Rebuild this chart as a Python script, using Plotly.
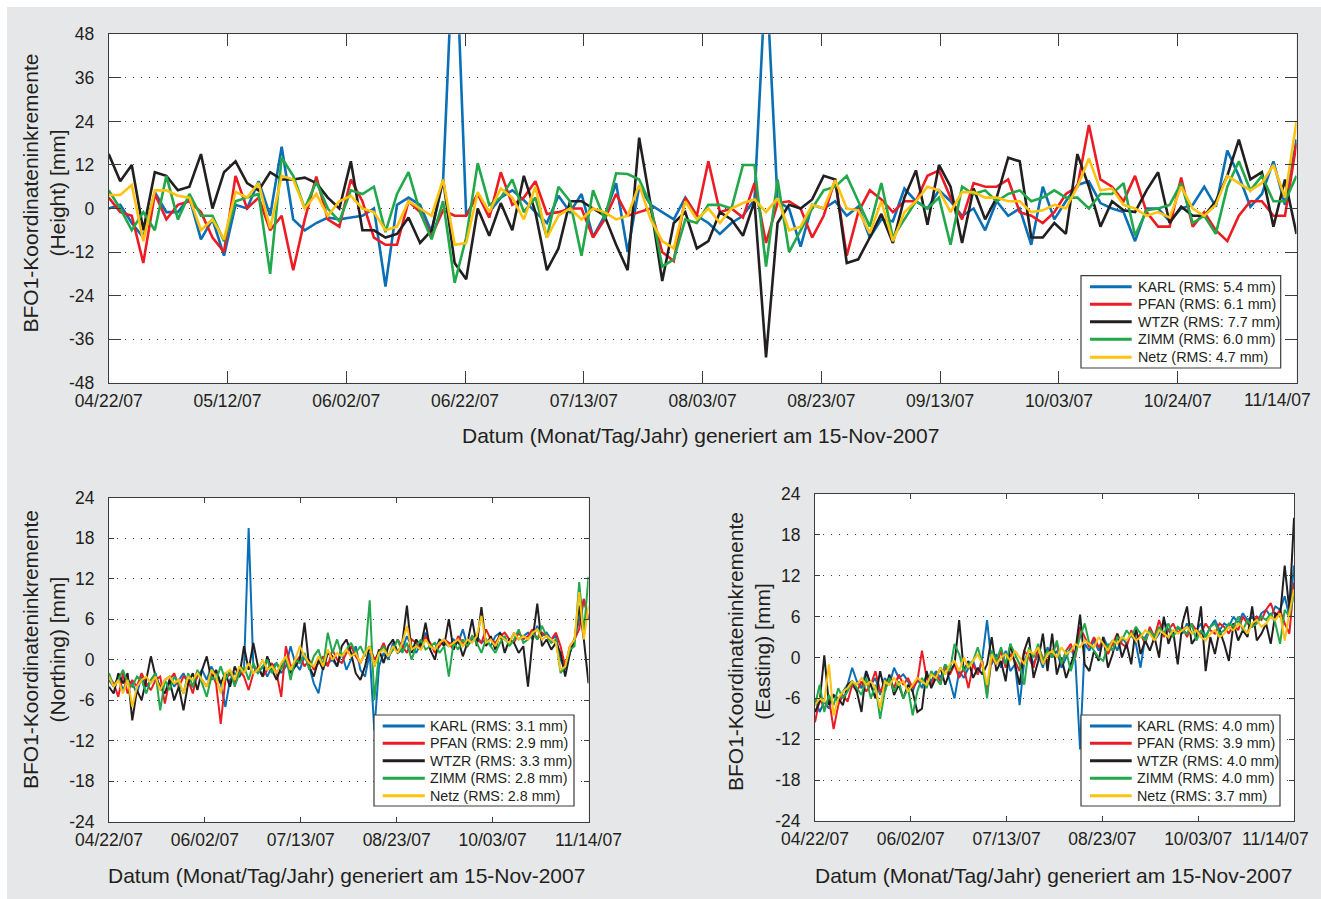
import pandas as pd
import plotly.graph_objects as go

# ---------------------------------------------------------------------------
# Daily coordinate increments of BFO1 (sampled every second day) in mm
# ---------------------------------------------------------------------------
DATES = pd.date_range("2007-04-22", "2007-11-14", freq="2D")

STATIONS = ["KARL", "PFAN", "WTZR", "ZIMM", "Netz"]

# Height component (two KARL outliers run beyond the +48 mm limit)
KARL_H = [0, 1, -4, -8, 4.5, -1, -1, 3, -8.5, -3,
          -13, 1, 0, 7.5, -2, 17, -3, -6, -4, -2.5,
          -3, -2.5, -2, 0, -21.5, 1, 3, 1, -6.5, 8,
          82, -2, 4, -1, 3, 5, 2.3, -1, -4, 3.5,
          -1, 4, -7.8, -2, 7, -12, 6, 1, -1, -3,
          3, -2, -4, -7, -4, -2, 2.5, 66, 2, 0,
          -10.5, 1, 0, 2, -2, 0.5, -8, -3, -3.5, 5.5,
          2, 0, 5, 2, -2, 0, -6, 2, -2, 0,
          -10, 6, -3, 2, 6.5, 7.5, 1.5, 0, -1, -9,
          0, 0, -3.5, 0, 1, 6, 0.5, 16, 9, 0.5,
          4, 13, 1, 19]
PFAN_H = [3, -1, -2, -15, 4, -3, 1, 2, -1, -8,
          -12, 9, 0, 3, -6, -2, -17, -3, 8.8, -3,
          -5, 8, 2, -8, -10, -10, 2, -1, -7.5, -0.5,
          -2, -2, 4, -2.5, 10, 1, 3, 7.5, -1.5, -1,
          0, 0, -8, -3, 4, -2, -1, 0, -12, -14.5,
          3, -2, 13, -1, 0, -2.5, 7, -9.5, 1.5, 2,
          0, -8, -2, 8, -13, -1, 5, 2.5, -1, 2,
          2, 9, 10.5, 3, -3, 7, 6, 6, 8, -1,
          -2, -4, -1, 4, 6, 23, 8, 6, 2, 9,
          -1, -5, -5, 8.5, -5, -1, -6, -9, -2, 2,
          2, -2, -2, 18]
WTZR_H = [15, 7.5, 12, -6, 10, 9, 5, 6, 15, 0,
          10, 13, 7, 5, 10, 8, 8, 8.5, 7, 3,
          0, 13, -6, -6, -8, -7, -2.5, -9.5, -6, 8,
          -15, -19.5, 0, -7.5, 1.5, -6, 9, -1, -17, -11,
          2, 2, 0, -2, -10, -17, 19.5, 1, -20, -4,
          -1, -11, -9, -1, -3, -7.5, 2, -41, -4, 1,
          0, 2.5, 9, 8, -15, -14, -8, -1.5, -9.5, 3,
          10.5, -4.5, 12, 6, -9.5, 5.5, -3, 3, 14, 13,
          -8, -8, -4, -7, 15, 6, -5, 2, -0.5, -1,
          5, 10, -4, 0.5, -2, -2, 2, 9, 19, 8,
          10, -5, 8, -7]
ZIMM_H = [5, 0, -6, -1, -6, 9, -3, 4, -2, -2,
          -9, 2, 3, 4, -18, 14, 9, 0, 7.4, 0,
          -3.5, 5, 4, 6, -6.5, 4, 10, -1, -8.5, 2,
          -20.5, -8, 12.5, 1, 3, 8, -1, 3, -8, 6,
          2, -13, 5, -3, 9.7, 9.5, 8, 1, -16, -14,
          -3, -4, 1, 1, 0, 12, 12, -16, 8, -12,
          -6, 0, 5, 6, 9, 2, -5, 7, -8, -3,
          2, 0, 3, -10, 6, 4, 5, 2, 4, 5,
          2, 3, 5, 3, 3, 0, 4, 4, 7, -7.5,
          -0.5, 0, 1, 7, -4, -2, -7, 6, 13, 5,
          9, 2, 2, 9]
NETZ_H = [3.7, 3.7, 6.5, -9, 5, 5, 3.5, 3, -6, -3,
          -8.5, 4.6, 3, 7, -5.5, 9, 8, 0, 4, -2,
          2, 3.5, 0, -1, -6, -5, 2, 0, -2, 8,
          -10, -9.5, 4.5, -1, 5.5, 3, -3, 6, -8, -2,
          0, -3, 0, -1, -3, -2, 6.5, -3, -9, -11,
          2, -3, 0, -4, 0, 1.5, 2.5, -1, 2.8, -6,
          -5, 1, 0, 7.8, 0, -0.5, -6.8, 2, -9, -1,
          2, 6, 5, -1, 4.5, 4.5, 3, 3, 2, 2,
          -1, -0.5, 1, 0, 6, 13.8, 5, 5.5, 1, 0,
          -2, -1, -2.5, 6, 0, -2, 1, 9, 7, 5,
          7, 12, 3, 24]

# Northing component
KARL_N = [-3, -4, -2.5, -4.5, -3, -3.5, -5, -2.5, -4, -3,
          -2, -4.5, -3, -2.5, -4, -3, -2, -3.5, -4, -2.5,
          -1.5, -3, -1, -2.5, -3.5, -7, -3, -2, -2.5, -1.5,
          19.5, -1, -2, -1, -2.5, -1, -0.5, -2, -1, 2,
          -0.5, -1.5, 0.5, -1, -3.5, -5, -1, -0.5, 0, -1,
          1, -1.5, 0, 2, -1.5, -2.5, 1, -10.5, -1, 1,
          0, 2.5, 1, 1.5, 3.5, 2, 1, 2.5, 4, 2,
          1.5, 3, 2.5, 2, 3, 2.5, 4.5, 2, 3, 3.5,
          2.5, 3, 2, 3.5, 4, 3, 2.5, 4, 3, 3.5,
          4, 3, 5, 3.5, 4, 3, 3.5, 0, -1.5, 1,
          3, 6, 9, 6]
PFAN_N = [-2.5, -3.5, -5.5, -2, -5, -3, -4, -2, -3.5, -4.5,
          -3, -2.5, -6.5, -3, -2, -4, -2.5, -3, -5, -2,
          -3, -4, -2, -3.5, -9.5, -3, -2, -3.5, -1.5, -2.5,
          -4.5, -2, -1, -2.5, -1.5, -0.5, -2, -5.5, 2, -1,
          -0.5, 0.5, -1, 0, -1.5, -0.5, 0.5, -1, 1.5, 0,
          -0.5, 1, 2, 0.5, -0.5, 1, 2, 0, 1, 2.5,
          0.5, 1.5, 3, 2, 1, 3, 2.5, 1.5, 3.5, 2.5,
          1, 2, 3, 2.5, 1.5, 3.5, 2.5, 2, 3.5, 3,
          2.5, 4.5, 3, 2.5, 3.5, 4, 3, 2.5, 4, 3,
          3.5, 4.5, 3, 4, 3.5, 3, 4, 2, -1, 2,
          3, 4.5, 9, 6]
WTZR_N = [-4, -5, -2, -3.5, -2, -9, -4.5, -6, -3, 0.5,
          -2.5, -4, -5, -3, -6, -4, -7.5, -3.5, -2, -4.5,
          -1.5, 0.5, -3, -1.5, -3.5, -2, -4, -1, -2.5, 2,
          -1.5, 2.5, -1, -2.5, 0.5, -1.5, -3, -1, 0, -2,
          -1, 0, 5.5, -1, -2.5, 0, -1.5, 1, 0.5, -1,
          2, 3, 1, -2, -3, -1, 2, -1, 1.5, -0.5,
          2, 3, 1, 2.5, 8, 1, 3, 2, 5.5, 1.5,
          0, 3, 2, 6, 1.5, 3, 0.5, 2.5, 6, 2,
          7.8, 2, 3.5, 1.5, 4, 1, 3, 2.5, 1, 2,
          -4, 3, 8.3, 2, 3, 1.5, 2.5, 1, -2.5, 1,
          3, 8, 3, -3.5]
ZIMM_N = [-2, -4, -3, -1.5, -3.5, -4, -2.5, -3, -5, -3,
          -2, -7.5, -3, -4.5, -2.5, -3.5, -5, -2, -4, -1.5,
          -3.5, -5.5, -2.5, -3, -1, -3, -1.5, -4, -2, -1,
          -3, -0.5, -2, -1, 0, -2, -0.5, -1.5, 0.5, -3,
          0, -0.5, 1, -1.5, 0.5, 1.5, -1, 4, 1, 3,
          0.5, 1.5, 2.5, 1, 2, 0.5, 8.8, -6, 1, 2,
          0.5, 1.5, 3, 1, 2.5, 0, 2, 3, 1.5, 2,
          2.5, 1, 2, -2.5, 2.5, 1.5, 3, 2, 3.5, 2.5,
          1, 3, 2, 1, 2.5, 3.5, 2, 3, 4.5, 2.5,
          3, 4, 3, 5, 3.5, 2.5, 3, -2, -1, 1.5,
          2, 11.5, 4, 12.3]
NETZ_N = [-2.5, -4, -3, -5, -3, -7, -4, -3, -2.5, -3.5,
          -2.5, -4.5, -3, -2.5, -3.5, -3, -5, -2.5, -3, -2,
          -3, -4, -1.5, -2.5, -5, -2, -1.5, -3, -1, -2,
          -0.5, -2, -1.5, 0, -1.5, -1, -2, -0.5, 0.5, -1.5,
          0, 2, 0.5, -0.5, -1, 0.5, -1, 1.5, 0, 1,
          0.5, 1.5, 0.5, 1, -0.5, 1, 2, -1, 1, 1.5,
          0.5, 2, 1, 2.5, 5, 1.5, 2, 1.5, 3, 2,
          1.5, 2.5, 3, 2, 2.5, 3, 2, 3, 2.5, 3.5,
          6.5, 2.5, 3, 2, 3.5, 3, 2.5, 4, 3, 3.5,
          3, 4, 4.5, 3, 3.5, 3, 2.5, -1.5, -1, 2,
          3, 10, 3, 8]

# Easting component
KARL_E = [-6, -8, -6.5, -7.5, -5.5, -6.5, -5, -4, -1.5, -3.5,
          -4.5, -2, -4, -3, -5.5, -3, -4, -1.5, -3, -2.5,
          -3.5, -5, -3, -4.5, -2.5, -3.5, -2, -3, -1, -3.5,
          -6, -2, -3, -1.5, -0.5, -2.5, 0, 5.5, -1, 0.5,
          -1.5, 1, -2, -1, -7, -0.5, 1, -1, 0.5, -1.5,
          1.5, 0, 1, -1.5, 0, 1.5, -0.5, -13.5, 2, 1,
          2.5, 1, 3, 1.5, 2.5, 1, 3, 2, 3.5, 2,
          -1.5, 3, 4, 2.5, 3.5, 5.5, 4, 3, 4.5, 3.5,
          5, 3.5, 4, 5, 3, 4.5, 5.5, 4, 5, 4.5,
          6, 5, 6.5, 5.5, 6, 5, 6.5, 7, 6, 7.5,
          7, 9, 6, 13.5]
PFAN_E = [-9.5, -6, -7.5, -6, -10.5, -7, -5.5, -6.5, -4, -5,
          -3.5, -5, -4, -2, -5, -4, -3, -4.5, -2.5, -4,
          -3, -4.5, -3.5, 1, -3, -4, -2.5, -3.5, -1.5, -2.5,
          -1, -3, -1.5, -4.5, -1, -2.5, -0.5, -5.5, 0, -1,
          1, -1.5, 0.5, -0.5, -2, 1, 0, -1.5, 1.5, 0,
          -0.5, 1, 2, -1, 1, 2, 0, 4.5, 3, 1.5,
          3, 1.5, 2.5, 0.5, 2, 3.5, 2, 1.5, 4, 2.5,
          3.5, 2, 4.5, 3, 5.5, 3, 4, 5, 3.5, 4.5,
          3, 5, 4, 3.5, 5, 4, 3.5, 5, 4.5, 3.5,
          5, 4, 6, 5, 4.5, 6, 5.5, 7, 8, 6,
          7, 5, 3.5, 11]
WTZR_E = [-8, -6.5, 0.3, -7, -5.5, -6, -7, -4, -3.5, -5,
          -8, -2, -4, -6, -2, -5, -2.5, -5.5, -4, -6,
          -4, -5, -8, -7.5, -2, -4.5, -3, -1.5, -4, -2,
          -1, 5.5, -2, -0.5, -3, -1.5, -2.5, -1, 3, -2,
          -0.5, -3.5, 2, -1, -4, 1, 3, -3, -0.5, 3.5,
          -2, 3.5, -2.5, 0, -3, -1, 1, 6.3, -1, -2,
          1, -0.5, 3, -1.5, 0.5, 3.5, 0, 2, -1, 4.5,
          0.5, 2.5, 1, 3, 0, 6, 2, 4, -1, 5,
          7.5, 2, 3, 7.5, -2, 3, 0.5, 4, 2, -0.5,
          5, 2.5, 4, 3, 7.5, 2.5, 3.5, 5, 2, 6.5,
          6, 13.5, 7, 20.5]
ZIMM_E = [-7, -4, -8, -5.5, -7, -4.5, -6, -5, -3.5, -4.5,
          -5.5, -3, -6, -4, -9, -5, -3, -5, -3.5, -6,
          -4.5, -8.5, -5, -3, -4.5, -2, -3, -4, -1, -2,
          2, 0.5, -2, -1, -0.5, 1.5, -1, -6, 1, -0.5,
          1.5, -1, 2, 0.5, -1, -4, 1.5, 0, 2, -0.5,
          1, 0, 2.5, -1, 1, -2, 0.5, 3, 5, 2,
          1, 0, -0.5, 2, 1, 3, 2.5, 4, 3, 4.5,
          3.5, 2.5, 4, 3, 4.5, 3.5, 5, 3, 4.5, 4,
          3.5, 5, 2.5, 4, 3, 4.5, 5, 3.5, 4, 5,
          4.5, 6, 4, 5.5, 4.5, 5, 6, 5.5, 6.5, 5,
          2, 7, 6, 9.5]
NETZ_E = [-7, -6, -6.5, -1, -8.5, -6, -5, -4.5, -3.5, -4,
          -3, -4, -3.5, -4.5, -7.5, -3.5, -4, -3, -4, -3.5,
          -5, -4, -3, -3.5, -4, -2.5, -3, -1.5, -2.5, -1,
          -0.5, -2, 0, -1.5, -0.5, 0.5, -1, -4, 0.5, -1,
          0, 0.5, -0.5, 1, 0, -1, 1, 0.5, 1.5, -1,
          0.5, 1, 0, 1.5, 0.5, 1, 2, 1.5, 2.5, 2,
          1.5, 3, 2, 1, 2.5, 2, 3, 2.5, 3.5, 2.5,
          3, 4, 3.5, 2.5, 4, 3.5, 3, 4, 3.5, 4,
          4.5, 3.5, 4, 3, 2.5, 3.5, 4, 3, 3.5, 4.5,
          4, 5, 4.5, 3.5, 5, 5.5, 4.5, 5, 6, 5.5,
          6.5, 2.5, 6.5, 10]

RMS_H = ["5.4", "6.1", "7.7", "6.0", "4.7"]
RMS_N = ["3.1", "2.9", "3.3", "2.8", "2.8"]
RMS_E = ["4.0", "3.9", "4.0", "4.0", "3.7"]

Y_TICKS_H = [-48, -36, -24, -12, 0, 12, 24, 36, 48]
Y_TICKS_NE = [-24, -18, -12, -6, 0, 6, 12, 18, 24]

COLORS = ["#0b6fb6", "#ec1c24", "#231f20", "#22a84b", "#ffc20e"]

# ---------------------------------------------------------------------------
# Figure geometry (pixels)
# ---------------------------------------------------------------------------
W, H = 1321, 899
FONT = "Liberation Sans"
TXT = "#231f20"
AX = "#3c3c3c"
BG = "#e6e7e8"
TICK_SIZE = 17.5


def px(x):
    return x / W


def py(y):
    return 1 - y / H


START = pd.Timestamp("2007-04-22")
END = pd.Timestamp("2007-11-14")


def date_ticks(step_minutes, count, last_as_note):
    """Equally spaced date ticks; the last label may be placed separately."""
    stamps = [START + pd.Timedelta(minutes=step_minutes * k) for k in range(count)]
    vals = [t.strftime("%Y-%m-%d %H:%M:%S") for t in stamps]
    text = [t.strftime("%m/%d/%y") for t in stamps]
    note = None
    if last_as_note:
        note = text[-1]
        text[-1] = ""
    return vals, text, note


# 206 days split into 10 (top) or 5 (bottom) equal intervals
TICKS_TOP = date_ticks(29664, 11, True)
TICKS_LEFT = date_ticks(59328, 6, False)
TICKS_RIGHT = date_ticks(59328, 6, True)

panels = [
    dict(ax="", data=[KARL_H, PFAN_H, WTZR_H, ZIMM_H, NETZ_H], rms=RMS_H,
         yt=Y_TICKS_H, xt=TICKS_TOP, lw=2.6, tl=12,
         xd=(108.7, 1296.5), yd=(34.3, 382.7), comp="Height", last=(1277.5, 400)),
    dict(ax="2", data=[KARL_N, PFAN_N, WTZR_N, ZIMM_N, NETZ_N], rms=RMS_N,
         yt=Y_TICKS_NE, xt=TICKS_LEFT, lw=2, tl=5,
         xd=(109, 588.5), yd=(497.7, 821.7), comp="Northing", last=None),
    dict(ax="3", data=[KARL_E, PFAN_E, WTZR_E, ZIMM_E, NETZ_E], rms=RMS_E,
         yt=Y_TICKS_NE, xt=TICKS_RIGHT, lw=2, tl=5,
         xd=(815, 1294), yd=(494, 821), comp="Easting", last=(1275.5, 838.5)),
]

fig = go.Figure()
layout = dict(
    width=W, height=H, margin=dict(l=0, r=0, t=0, b=0, autoexpand=False),
    paper_bgcolor=BG, plot_bgcolor="white", showlegend=False,
    font=dict(family=FONT, color=TXT),
)
shapes = []
annotations = []

for p in panels:
    xa, ya = "x" + p["ax"], "y" + p["ax"]
    for name, vals, col in zip(STATIONS, p["data"], COLORS):
        fig.add_trace(go.Scatter(x=DATES, y=vals, mode="lines", name=name,
                                 line=dict(color=col, width=p["lw"], simplify=False),
                                 xaxis=xa, yaxis=ya))
    common = dict(showline=True, linecolor=AX, linewidth=1, mirror="ticks",
                  ticks="inside", ticklen=p["tl"], tickwidth=1, tickcolor=AX,
                  tickfont=dict(family=FONT, size=TICK_SIZE, color=TXT),
                  zeroline=False, fixedrange=True)
    layout["xaxis" + p["ax"]] = dict(
        common, type="date", range=[START, END], domain=[px(p["xd"][0]), px(p["xd"][1])],
        anchor=ya, tickmode="array", tickvals=p["xt"][0], ticktext=p["xt"][1],
        showgrid=False, ticklabelstandoff=2)
    layout["yaxis" + p["ax"]] = dict(
        common, range=[p["yt"][0], p["yt"][-1]],
        domain=[py(p["yd"][1]), py(p["yd"][0])], anchor=xa,
        tickmode="array", tickvals=p["yt"], ticktext=[str(v) for v in p["yt"]],
        showgrid=True, gridcolor="#404040", gridwidth=1, griddash="1px,7px",
        ticklabelstandoff=10)
    # last date label is pulled inside the sheet
    if p["last"] is not None:
        annotations.append(dict(text=p["xt"][2], x=px(p["last"][0]), y=py(p["last"][1]),
                                xref="paper", yref="paper", xanchor="center",
                                yanchor="middle", showarrow=False, borderpad=0,
                                font=dict(family=FONT, size=TICK_SIZE, color=TXT)))

# white strip along the top and left edge of the grey sheet
for x0, y0, x1, y1 in [(0, 0, W, 7), (0, 0, 7, H)]:
    shapes.append(dict(type="rect", xref="paper", yref="paper",
                       x0=px(x0), x1=px(x1), y0=py(y1), y1=py(y0),
                       fillcolor="white", line=dict(width=0), layer="below"))

# axis titles
XTITLE = "Datum (Monat/Tag/Jahr) generiert am 15-Nov-2007"
for (cx, cy) in [(700.5, 436), (346.5, 875), (1053, 875)]:
    annotations.append(dict(text=XTITLE, x=px(cx), y=py(cy), xref="paper", yref="paper",
                            xanchor="center", yanchor="middle", showarrow=False,
                            font=dict(family=FONT, size=21, color=TXT)))
for p, (cx, cy) in zip(panels, [(43.5, 193), (44, 650), (749, 652)]):
    annotations.append(dict(text="BFO1-Koordinateninkremente<br>(%s) [mm]" % p["comp"],
                            x=px(cx), y=py(cy), xref="paper", yref="paper",
                            xanchor="center", yanchor="middle", showarrow=False,
                            textangle=-90, font=dict(family=FONT, size=21, color=TXT)))

# legend boxes: (box left, top, right, bottom, sample x0, x1, text x, row ys)
ROWS_TOP = [286.7, 304.3, 321.7, 339.3, 357.3]
ROWS_BOT = [726, 743.3, 760.7, 778.3, 795.7]
legends = [
    (1081, 275.7, 1280.7, 368, 1090, 1131.7, 1136.7, ROWS_TOP),
    (374, 715, 574, 806, 382.7, 424.8, 429.4, ROWS_BOT),
    (1081, 715, 1280, 806, 1090, 1131.7, 1135.6, ROWS_BOT),
]
for p, (l, t, r, b, s0, s1, tx, rows) in zip(panels, legends):
    shapes.append(dict(type="rect", xref="paper", yref="paper",
                       x0=px(l), x1=px(r), y0=py(b), y1=py(t),
                       fillcolor="white", line=dict(color="#3c3c3c", width=1.2), layer="above"))
    for name, rms, col, ry in zip(STATIONS, p["rms"], COLORS, rows):
        shapes.append(dict(type="line", xref="paper", yref="paper",
                           x0=px(s0), x1=px(s1), y0=py(ry), y1=py(ry),
                           line=dict(color=col, width=3), layer="above"))
        annotations.append(dict(text="%s (RMS: %s mm)" % (name, rms),
                                x=px(tx), y=py(ry), xref="paper", yref="paper",
                                xanchor="left", yanchor="middle", showarrow=False,
                                borderpad=0, font=dict(family=FONT, size=14.3, color=TXT)))

layout["shapes"] = shapes
layout["annotations"] = annotations
fig.update_layout(**layout)
fig.write_html("out.html")
